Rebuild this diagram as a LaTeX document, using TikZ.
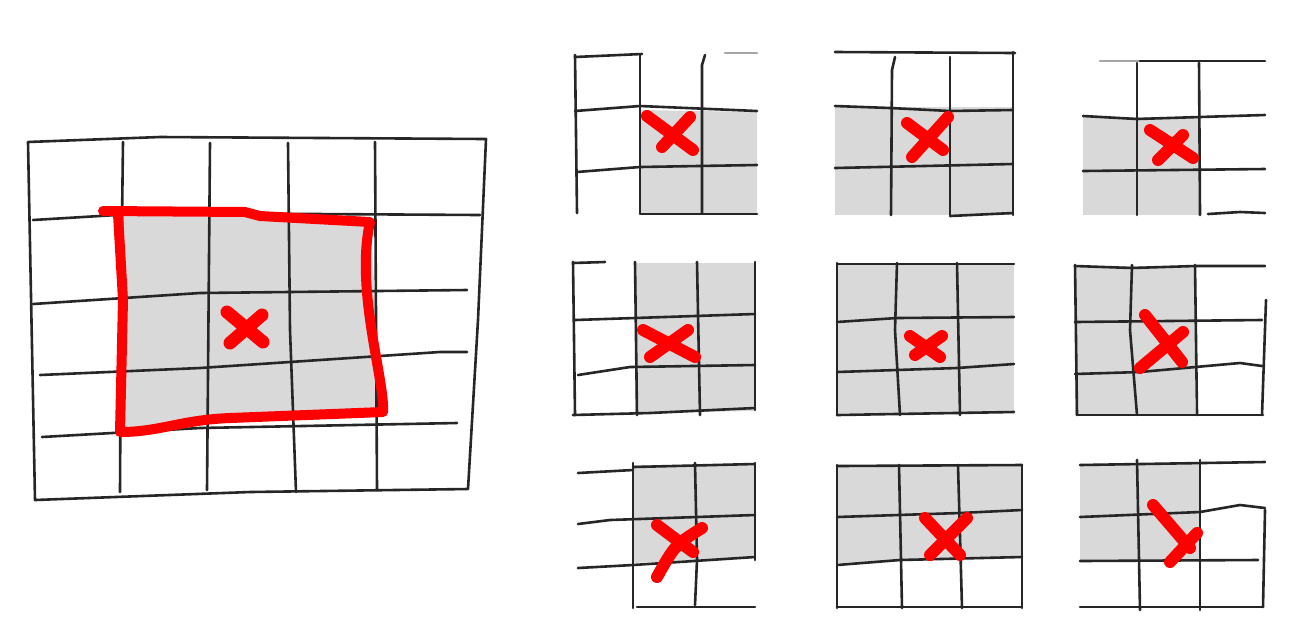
\documentclass[tikz,border=0pt]{standalone}
\usepackage{xcolor}
\usepackage{tikz}

\begin{document}
\begin{tikzpicture}[x=0.5pt, y=-0.5pt,
    gridline/.style={draw=black!85, line width=1.3pt, line cap=round, line join=round},
    faintline/.style={draw=black!35, line width=1.3pt, line cap=round},
    cellfill/.style={fill=black!15},
    redline/.style={draw=red, line width=5pt, line cap=round, line join=round},
    cross/.style={draw=red, line width=6pt, line cap=round}]
    \useasboundingbox (0,0) rectangle (1294,628);

    % Big grid: shaded window
    \fill[cellfill] (118,212) -- (370,222) -- (383,413) -- (230,418) -- (120,432) -- cycle;

    % Big grid: frame and lines
    \draw[gridline] (28,142) -- (160,137) -- (486,139) -- (478,320) -- (468,489) -- (250,492) -- (35,500) -- cycle;
    \draw[gridline] (123,142) -- (121,300) -- (120,492);
    \draw[gridline] (210,143) -- (207,490);
    \draw[gridline] (288,143) -- (290,330) -- (296,492);
    \draw[gridline] (375,142) -- (377,490);
    \draw[gridline] (33,220) -- (150,213) -- (480,215);
    \draw[gridline] (33,304) -- (200,293) -- (467,290);
    \draw[gridline] (40,375) -- (200,368) -- (440,352) -- (467,352);
    \draw[gridline] (42,437) -- (200,428) -- (457,423);

    % Big grid: red window and mark
    \draw[redline] (103,211) -- (245,212) -- (260,216) -- (370,222)
        .. controls (355,290) and (385,380) .. (383,412) -- (230,418)
        .. controls (180,420) and (160,432) .. (120,432) -- (123,300) -- (118,214);
    \draw[cross, line width=6.5pt] (227,312) -- (263,342);
    \draw[cross, line width=6.5pt] (262,315) -- (230,343);

    % Panel 1
    \fill[cellfill] (640,110) -- (757,112) -- (757,213) -- (640,213) -- cycle;
    \draw[gridline] (575,55) -- (577,213);
    \draw[gridline] (640,55) -- (640,213);
    \draw[gridline] (705,55) -- (702,65) -- (702,213);
    \draw[gridline] (575,57) -- (642,54);
    \draw[faintline] (725,53) -- (757,53);
    \draw[gridline] (575,111) -- (640,106) -- (757,111);
    \draw[gridline] (577,172) -- (640,167) -- (757,165);
    \draw[gridline] (640,214) -- (757,214);
    \draw[cross] (647,116) -- (693,150);
    \draw[cross] (690,117) -- (662,147);

    % Panel 2
    \fill[cellfill] (835,107) -- (1013,107) -- (1013,215) -- (835,215) -- cycle;
    \draw[gridline] (835,52) -- (1015,53);
    \draw[gridline] (895,57) -- (892,70) -- (891,215);
    \draw[gridline] (950,57) -- (950,215);
    \draw[gridline] (1013,52) -- (1013,215);
    \draw[gridline] (835,106) -- (890,108) -- (950,111) -- (1013,110);
    \draw[gridline] (835,168) -- (1013,164);
    \draw[gridline] (950,216) -- (1013,213);
    \draw[cross] (907,123) -- (943,150);
    \draw[cross] (948,117) -- (912,157);

    % Panel 3
    \fill[cellfill] (1083,117) -- (1200,117) -- (1200,215) -- (1083,215) -- cycle;
    \draw[faintline] (1100,61) -- (1140,61);
    \draw[gridline] (1140,61) -- (1265,61);
    \draw[gridline] (1137,63) -- (1137,215);
    \draw[gridline] (1199,63) -- (1200,215);
    \draw[gridline] (1083,116) -- (1137,119) -- (1200,117) -- (1265,115);
    \draw[gridline] (1083,171) -- (1265,169);
    \draw[gridline] (1208,214) -- (1240,212) -- (1265,213);
    \draw[cross] (1150,130) -- (1193,158);
    \draw[cross] (1183,135) -- (1158,160);

    % Panel 4
    \fill[cellfill] (635,263) -- (755,263) -- (755,411) -- (635,413) -- cycle;
    \draw[gridline] (573,262) -- (575,415);
    \draw[gridline] (635,262) -- (637,415);
    \draw[gridline] (697,262) -- (700,415);
    \draw[gridline] (755,262) -- (755,410);
    \draw[gridline] (573,263) -- (605,262);
    \draw[gridline] (575,320) -- (635,318) -- (755,314);
    \draw[gridline] (578,375) -- (630,367) -- (755,365);
    \draw[gridline] (573,415) -- (650,413) -- (755,408);
    \draw[cross] (643,330) -- (695,357);
    \draw[cross] (688,330) -- (650,357);

    % Panel 5
    \fill[cellfill] (837,263) -- (1014,263) -- (1014,413) -- (837,413) -- cycle;
    \draw[gridline] (837,263) -- (837,415);
    \draw[gridline] (897,263) -- (895,330) -- (900,415);
    \draw[gridline] (957,263) -- (960,415);
    \draw[gridline] (837,264) -- (1014,264);
    \draw[gridline] (837,322) -- (897,318) -- (1014,317);
    \draw[gridline] (837,372) -- (957,368) -- (1014,364);
    \draw[gridline] (837,415) -- (1014,412);
    \draw[cross] (910,336) -- (940,357);
    \draw[cross] (942,336) -- (915,355);

    % Panel 6
    \fill[cellfill] (1075,266) -- (1195,266) -- (1195,415) -- (1075,415) -- cycle;
    \draw[gridline] (1075,265) -- (1077,415);
    \draw[gridline] (1132,265) -- (1130,330) -- (1137,415);
    \draw[gridline] (1195,265) -- (1197,415);
    \draw[gridline] (1266,300) -- (1262,415);
    \draw[gridline] (1075,266) -- (1132,268) -- (1195,266) -- (1265,266);
    \draw[gridline] (1075,322) -- (1262,320);
    \draw[gridline] (1075,374) -- (1140,372) -- (1240,363) -- (1262,366);
    \draw[gridline] (1077,415) -- (1263,415);
    \draw[cross] (1145,315) -- (1182,362);
    \draw[cross] (1183,332) -- (1140,368);

    % Panel 7
    \fill[cellfill] (633,465) -- (755,465) -- (755,557) -- (633,563) -- cycle;
    \draw[gridline] (633,463) -- (633,608);
    \draw[gridline] (695,463) -- (697,560) -- (695,605);
    \draw[gridline] (755,463) -- (755,560);
    \draw[gridline] (578,473) -- (633,470);
    \draw[gridline] (633,467) -- (755,464);
    \draw[gridline] (578,524) -- (610,520) -- (755,515);
    \draw[gridline] (578,568) -- (633,565) -- (755,557);
    \draw[gridline] (637,607) -- (755,607);
    \draw[cross] (657,525) -- (693,552);
    \draw[cross] (702,528) .. controls (675,545) .. (657,577);

    % Panel 8
    \fill[cellfill] (837,465) -- (1022,465) -- (1022,557) -- (837,563) -- cycle;
    \draw[gridline] (837,465) -- (837,608);
    \draw[gridline] (899,465) -- (902,608);
    \draw[gridline] (958,465) -- (962,608);
    \draw[gridline] (1022,465) -- (1022,608);
    \draw[gridline] (837,466) -- (1022,465);
    \draw[gridline] (837,517) -- (960,513) -- (1022,510);
    \draw[gridline] (837,565) -- (900,560) -- (1022,557);
    \draw[gridline] (837,607) -- (1022,607);
    \draw[cross] (925,518) -- (960,555);
    \draw[cross] (967,518) -- (930,555);

    % Panel 9
    \fill[cellfill] (1080,464) -- (1200,464) -- (1200,560) -- (1080,560) -- cycle;
    \draw[gridline] (1137,460) -- (1140,610);
    \draw[gridline] (1200,460) -- (1200,610);
    \draw[gridline] (1265,510) -- (1263,607);
    \draw[gridline] (1080,465) -- (1265,462);
    \draw[gridline] (1080,517) -- (1200,512) -- (1240,505) -- (1265,508);
    \draw[gridline] (1080,561) -- (1258,560);
    \draw[gridline] (1080,607) -- (1263,607);
    \draw[cross] (1153,505) -- (1190,548);
    \draw[cross] (1197,533) -- (1170,562);
\end{tikzpicture}
\end{document}
